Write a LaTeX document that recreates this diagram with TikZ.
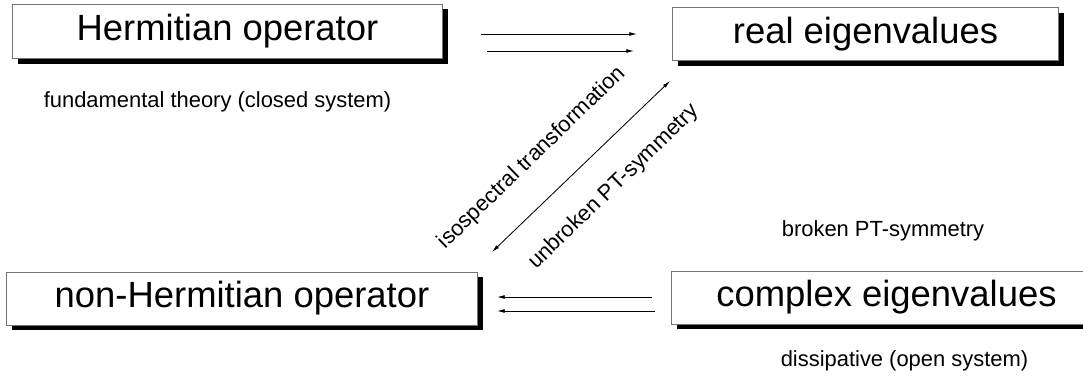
\documentclass[tikz,border=0pt]{standalone}
\usepackage{fontspec}
\setmainfont{Liberation Sans}
\usetikzlibrary{positioning,calc,arrows.meta,shadows}

\tikzset{
  opbox/.style={draw=black!55, line width=0.7pt, fill=white, inner sep=0pt,
    minimum height=37.7pt, font=\fontsize{25.9}{30}\selectfont,
    drop shadow={shadow xshift=3.9pt, shadow yshift=-3.9pt, fill=black, opacity=1}},
  note/.style={inner sep=0pt, font=\fontsize{15.6}{18}\selectfont},
  link/.style={line width=0.6pt, -{Latex[length=5.5pt,width=2.8pt]}}
}

\begin{document}
\begin{tikzpicture}[x=0.025cm, y=-0.025cm]
		\useasboundingbox (0,0) rectangle (1083,387);

		% the four boxes
		\node[opbox, minimum width=305.2pt, minimum height=39.1pt] (herm) at (227.5,31.5) {Hermitian operator};
		\node[opbox, minimum width=273.9pt] (real) at (865.5,34) {real eigenvalues};
		\node[opbox, minimum width=334.3pt] (nonherm) at (242,298.5) {non-Hermitian operator};
		\node[opbox, minimum width=305.2pt] (cplx) at (886.5,297.5) {complex eigenvalues};

		% remarks
		\node[note] (closed) at (217.5,102) {fundamental theory (closed system)};
		\node[note] (broken) at (883,231) {broken PT-symmetry};
		\node[note] (open) at (904.5,361) {dissipative (open system)};
		\node[note, rotate=44] (iso) at (532,158) {isospectral transformation};
		\node[note, rotate=44] (unbr) at (614,187) {unbroken PT-symmetry};

		% arrow ends
		\coordinate (ta) at (481,34);
		\coordinate (tb) at (637,34);
		\coordinate (tc) at (487,51);
		\coordinate (td) at (634,51);
		\coordinate (ba) at (652,297);
		\coordinate (bb) at (497,297);
		\coordinate (bc) at (655,311);
		\coordinate (bd) at (497,311);
		\coordinate (da) at (492,252);
		\coordinate (db) at (670,81);

		\draw[link] (ta) -- (tb);
		\draw[link] (tc) -- (td);
		\draw[link] (ba) -- (bb);
		\draw[link] (bc) -- (bd);
		\draw[link, {Latex[length=5.5pt,width=2.8pt]}-{Latex[length=5.5pt,width=2.8pt]}] (da) -- (db);
\end{tikzpicture}
\end{document}
